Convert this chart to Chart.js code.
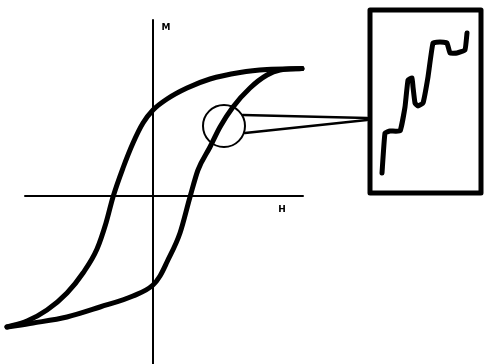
<!DOCTYPE html>
<html>
<head>
<meta charset="utf-8">
<script src="https://cdn.jsdelivr.net/npm/chart.js@4"></script>
<style>
  html, body { margin: 0; padding: 0; background: #fff; }
  #wrap { width: 485px; height: 364px; }
</style>
</head>
<body>
<div id="wrap"><canvas id="loopChart"></canvas></div>
<script>
// hysteresis loop, H along x, M along y (arbitrary units)
var descH = [149, 114, 87, 57, 34, 14, 0, -10, -20, -30, -40, -47, -56, -70, -86, -106, -126, -146];
var descM = [127.5, 126.5, 123.5, 117, 108, 97, 86, 73, 53, 28, -1, -27, -53, -77, -97, -114, -125, -131];
var ascH = [-146, -120, -86, -53, -20, 0, 7, 14, 27, 37, 45, 57, 67, 80, 97, 114, 127, 149];
var ascM = [-131, -127, -121, -111, -100, -89, -80, -66, -37, -1, 26, 49, 69, 89, 108, 121, 126, 127.5];

// enlarged detail (Barkhausen steps) inside the inset box
var stepH = [229, 232, 237, 247, 252, 255, 259, 260, 262, 265, 270, 275, 280, 287, 294, 297, 304, 312, 314];
var stepM = [23, 63, 65, 65, 89, 116, 118, 109, 93, 90, 93, 119, 153, 154, 153, 143, 143, 146, 163];

// axes, magnifier circle, callout and inset frame
var axisH = [[-128, 0], [150, 0]];
var axisM = [[0, 176], [0, -168]];
var lens = [[71, 70]];
var calloutTop = [[90, 81], [214, 78]];
var calloutBottom = [[92, 63], [214, 76]];
var insetBox = [[217, 186], [328, 186], [328, 3], [217, 3], [217, 186]];
var axisLabels = [{ text: 'M', x: 13, y: 168 }, { text: 'H', x: 129, y: -14 }];

function pts(xs, ys) {
    return xs.map(function (x, i) { return { x: x, y: ys[i] }; });
}
function pairs(arr) {
    return arr.map(function (p) { return { x: p[0], y: p[1] }; });
}
function line(data, width, tension) {
    return {
        data: data,
        showLine: true,
        borderColor: '#000',
        borderWidth: width,
        tension: tension || 0,
        pointRadius: 0,
        borderCapStyle: 'round',
        borderJoinStyle: 'round',
        fill: false,
        clip: false
    };
}
function curve(data) {
    var ds = line(data, 5, 0.4);
    ds.cubicInterpolationMode = 'monotone';
    return ds;
}

var labelPlugin = {
    id: 'axisLabels',
    afterDatasetsDraw: function (chart) {
        var c = chart.ctx;
        var xs = chart.scales.x, ys = chart.scales.y;
        c.save();
        c.fillStyle = '#000';
        c.font = 'bold 9px "DejaVu Sans"';
        c.textAlign = 'center';
        c.textBaseline = 'middle';
        axisLabels.forEach(function (l) {
            c.fillText(l.text, xs.getPixelForValue(l.x), ys.getPixelForValue(l.y));
        });
        c.restore();
    }
};

var ctx = document.getElementById('loopChart').getContext('2d');
new Chart(ctx, {
    type: 'scatter',
    data: {
        datasets: [
            line(pairs(axisH), 2),
            line(pairs(axisM), 2),
            curve(pts(descH, descM)),
            curve(pts(ascH, ascM)),
            {
                data: pairs(lens),
                pointRadius: 21,
                pointStyle: 'circle',
                borderColor: '#000',
                borderWidth: 2,
                backgroundColor: 'rgba(0,0,0,0)',
                clip: false
            },
            line(pairs(calloutTop), 2.5),
            line(pairs(calloutBottom), 2.5),
            line(pairs(insetBox), 5),
            line(pts(stepH, stepM), 5, 0.1)
        ]
    },
    options: {
        responsive: true,
        maintainAspectRatio: false,
        animation: false,
        layout: { padding: 0, autoPadding: false },
        plugins: {
            legend: { display: false },
            tooltip: { enabled: false }
        },
        scales: {
            x: { type: 'linear', min: -153, max: 332, display: false },
            y: { type: 'linear', min: -168, max: 196, display: false }
        }
    },
    plugins: [labelPlugin]
});
</script>
</body>
</html>
